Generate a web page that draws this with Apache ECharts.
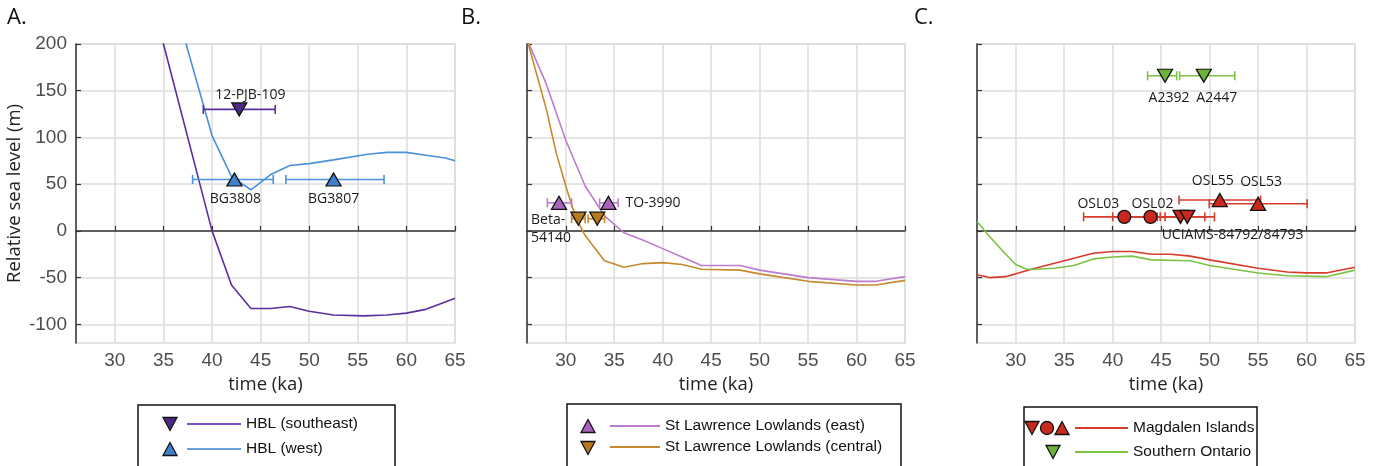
<!DOCTYPE html>
<html>
<head>
<meta charset="utf-8">
<script src="https://cdn.jsdelivr.net/npm/echarts@6/dist/echarts.min.js"></script>
<style>
  html, body { margin: 0; background: #fff; }
  #chart { width: 1382px; height: 466px; }
</style>
</head>
<body>
<div id="chart"></div>
<script>
// --- axes ---
const xTicks = [30, 35, 40, 45, 50, 55, 60, 65]
const yTicks = [-100, -50, 0, 50, 100, 150, 200]

// --- modelled relative sea level curves, [time ka, RSL m] ---
const hblSoutheast = [[34, 240], [35, 200], [40, 0], [42, -58], [44, -83], [46, -83], [48, -81], [50, -86], [52.5, -90], [55.6, -91], [58, -90], [60, -88], [62, -84], [64, -76], [65, -72]]
const hblWest = [[37, 212], [40, 102], [42, 58], [44, 44], [46, 60], [48, 70], [50, 72], [52.5, 76], [56, 82], [58, 84], [60, 84], [62, 81], [64, 78], [65, 75]]
const sllEast = [[26, 205], [28, 157], [30, 97], [32, 48], [34, 16], [36, -2], [38, -10], [40, -19], [42, -28], [44, -37], [48, -37], [50, -42], [55, -50], [60, -54], [62, -54], [65, -49]]
const sllCentral = [[26, 205], [28, 130], [29, 84], [30, 48], [31, 15], [32, -5], [34, -32], [36, -39], [38, -35], [40, -34], [42, -36], [44, -41], [48, -42], [50, -46], [55, -54], [60, -58], [62, -58], [65, -53]]
const magdalen = [[26, -47], [27.3, -50], [28.9, -49], [30, -46], [32, -40], [35, -32], [38, -24], [40, -22], [42, -22], [44, -25], [46, -25], [48, -27], [50, -31], [55, -40], [58, -44], [60, -45], [62, -45], [65, -39]]
const southOntario = [[26, 10], [27.3, -6], [28.7, -22], [30, -36], [31.1, -41], [32, -41], [34, -40], [36, -37], [38, -30], [40, -28], [42, -27], [44, -31], [48, -32], [50, -37], [55, -45], [58, -48], [62, -49], [65, -42]]

// --- dated samples: [label, age ka, elevation m, age low, age high] ---
const hblSeSamples = [['12-PJB-109', 42.8, 130, 39.1, 46.5]]
const hblWestSamples = [['BG3808', 42.3, 55, 38.0, 46.3], ['BG3807', 52.5, 55, 47.6, 57.7]]
const sllEastSamples = [['Beta-54140', 29.3, 30, 28.1, 30.6], ['TO-3990', 34.4, 30, 33.5, 35.4]]
const sllCentralSamples = [['', 31.3, 13, 30.6, 32.0], ['', 33.25, 13, 32.3, 34.0]]
const ontarioSamples = [['A2392', 45.4, 166, 43.6, 46.6], ['A2447', 49.4, 166, 46.9, 52.6]]
const magdalenCircles = [['OSL03', 41.2, 15, 37.0, 45.4], ['OSL02', 43.9, 15, 40.0, 47.8]]
const magdalenDown = [['UCIAMS-84792/84793', 47.0, 15, 44.6, 49.5], ['', 47.7, 15, 44.9, 50.5]]
const magdalenUp = [['OSL55', 51.05, 33, 46.85, 55.25], ['OSL53', 55.0, 29, 49.96, 60.06]]

// label placement relative to the marker centre (px)
const labelPos = {
  '12-PJB-109': { offset: [11, -14] },
  'BG3808': { offset: [1, 20] },
  'BG3807': { offset: [0, 20] },
  'Beta-54140': { offset: [-28, 26], align: 'left', text: 'Beta-\n54140' },
  'TO-3990': { offset: [17, 0], align: 'left' },
  'A2392': { offset: [4, 22] },
  'A2447': { offset: [13, 22] },
  'OSL03': { offset: [-26, -13] },
  'OSL02': { offset: [2, -13] },
  'UCIAMS-84792/84793': { offset: [52, 18] },
  'OSL55': { offset: [-7, -19] },
  'OSL53': { offset: [3, -22] },
}

const C = {
  hblSe: '#5b2f9e', hblSeFill: '#4b2a85',
  hblW: '#4a90db', hblWFill: '#3f7fcc',
  sllE: '#bb7dcc', sllEFill: '#a862b8',
  sllC: '#c58a2d', sllCFill: '#b8791f',
  mag: '#d73b2c', magFill: '#c8281e',
  ont: '#7dc243', ontFill: '#6cb33a',
}
const AXIS = '#333'
const GRIDLINE = '#dcdcdc'
const TICKTEXT = '#4d4d4d'
const SANS = '"Open Sans", "Noto Sans", sans-serif'
const HELV = '"Liberation Sans", Arial, sans-serif'

const grids = [
  { left: 76, top: 44, width: 379, height: 299 },
  { left: 527, top: 44, width: 378, height: 299 },
  { left: 977, top: 44, width: 378, height: 299 },
].map((g) => ({ ...g, show: true, borderColor: GRIDLINE, borderWidth: 1.5, containLabel: false }))

function xAxis(i) {
  return {
    type: 'value', gridIndex: i, min: 26, max: 65,
    name: 'time (ka)', nameLocation: 'middle', nameGap: 31,
    nameTextStyle: { color: '#222', fontSize: 18.5, fontFamily: SANS },
    axisLine: { lineStyle: { color: AXIS, width: 1.5 } },
    axisTick: { inside: true, length: 5, customValues: xTicks, lineStyle: { color: AXIS, width: 1.2 } },
    axisLabel: { customValues: xTicks, color: TICKTEXT, fontSize: 19, fontFamily: HELV, margin: 8 },
    splitLine: { show: true, lineStyle: { color: GRIDLINE, width: 1.5 } },
  }
}

function yAxis(i) {
  return {
    type: 'value', gridIndex: i, min: -120, max: 200,
    name: i === 0 ? 'Relative sea level (m)' : '', nameLocation: 'middle', nameGap: 52,
    nameTextStyle: { color: '#222', fontSize: 18.5, fontFamily: SANS },
    axisLine: { show: true, lineStyle: { color: AXIS, width: 1.5 } },
    axisTick: { show: true, inside: true, length: 5, customValues: yTicks, lineStyle: { color: AXIS, width: 1.2 } },
    axisLabel: { show: i === 0, customValues: yTicks, color: TICKTEXT, fontSize: 19, fontFamily: HELV, margin: 9 },
    splitLine: { show: true, lineStyle: { color: GRIDLINE, width: 1.5 } },
  }
}

function curve(i, data, color) {
  return {
    type: 'line', xAxisIndex: i, yAxisIndex: i, data, symbol: 'none', silent: true, z: 2,
    clip: true, lineStyle: { color, width: 1.6 },
  }
}

// horizontal age error bars with end caps
function errorBars(i, rows, color) {
  return {
    type: 'custom', xAxisIndex: i, yAxisIndex: i, silent: true, z: 3,
    itemStyle: { color },
    data: rows.map((r) => [r[3], r[4], r[2]]),
    renderItem(params, api) {
      const a = api.coord([api.value(0), api.value(2)])
      const b = api.coord([api.value(1), api.value(2)])
      const style = { stroke: color, lineWidth: 1.6 }
      const cap = 4.5
      return {
        type: 'group',
        children: [
          { type: 'line', shape: { x1: a[0], y1: a[1], x2: b[0], y2: b[1] }, style },
          { type: 'line', shape: { x1: a[0], y1: a[1] - cap, x2: a[0], y2: a[1] + cap }, style },
          { type: 'line', shape: { x1: b[0], y1: b[1] - cap, x2: b[0], y2: b[1] + cap }, style },
        ],
      }
    },
  }
}

function markers(i, rows, fill, shape) {
  const down = shape === 'down'
  return {
    type: 'scatter', xAxisIndex: i, yAxisIndex: i, silent: true, z: 4,
    symbol: shape === 'circle' ? 'circle' : 'triangle',
    symbolSize: shape === 'circle' ? 13 : [15, 13],
    symbolRotate: down ? 180 : 0,
    itemStyle: { color: fill, borderColor: '#111', borderWidth: 1.3, opacity: 1 },
    data: rows.map((r) => {
      const lp = labelPos[r[0]]
      const item = { value: [r[1], r[2]] }
      if (lp) {
        item.label = {
          show: true, position: 'inside', offset: lp.offset, align: lp.align || 'center',
          formatter: lp.text || r[0], color: '#1a1a1a', fontSize: 14, lineHeight: 18,
          fontFamily: SANS,
        }
      }
      return item
    }),
    label: { show: false },
  }
}

// --- legend boxes (drawn as graphics to match the MATLAB layout) ---
function tri(cx, cy, up, fill) {
  const w = 7, h = 6.5
  const pts = up
    ? [[cx - w, cy + h], [cx + w, cy + h], [cx, cy - h]]
    : [[cx - w, cy - h], [cx + w, cy - h], [cx, cy + h]]
  return { type: 'polygon', shape: { points: pts }, style: { fill, stroke: '#111', lineWidth: 1.3 } }
}
function legendRow(sym, x1, x2, y, color, text) {
  return [
    ...sym,
    { type: 'line', shape: { x1, y1: y, x2, y2: y }, style: { stroke: color, lineWidth: 2 } },
    { type: 'text', x: x2 + 5, y, style: { text, fill: '#111', font: `15.5px ${HELV}`, verticalAlign: 'middle' } },
  ]
}
function box(x, y, w, h) {
  return { type: 'rect', shape: { x, y, width: w, height: h }, style: { fill: '#fff', stroke: '#111', lineWidth: 1.5 } }
}
function title(x, text) {
  return { type: 'text', x, y: 18, style: { text, fill: '#111', font: `22px ${SANS}`, verticalAlign: 'middle' } }
}

const graphic = [
  title(7, 'A.'), title(461, 'B.'), title(914, 'C.'),
  box(138, 405, 257, 62),
  ...legendRow([tri(170, 424, false, C.hblSeFill)], 187, 241, 424, '#7a55bb', 'HBL (southeast)'),
  ...legendRow([tri(170, 449, true, C.hblWFill)], 187, 241, 449, '#6a9edf', 'HBL (west)'),
  box(567, 404, 334, 63),
  ...legendRow([tri(588, 426, true, C.sllEFill)], 610, 660, 426, C.sllE, 'St Lawrence Lowlands (east)'),
  ...legendRow([tri(588, 448, false, C.sllCFill)], 610, 660, 447, C.sllC, 'St Lawrence Lowlands (central)'),
  box(1024, 407, 233, 60),
  ...legendRow([
    tri(1032, 428, false, C.magFill),
    { type: 'circle', shape: { cx: 1047, cy: 428, r: 6.5 }, style: { fill: C.magFill, stroke: '#111', lineWidth: 1.3 } },
    tri(1062, 428, true, C.magFill),
  ], 1075, 1128, 428, C.mag, 'Magdalen Islands'),
  ...legendRow([tri(1053, 452, false, C.ontFill)], 1075, 1128, 452, C.ont, 'Southern Ontario'),
]

const option = {
  animation: false,
  backgroundColor: '#fff',
  grid: grids,
  xAxis: [0, 1, 2].map(xAxis),
  yAxis: [0, 1, 2].map(yAxis),
  graphic,
  series: [
    // A. Hudson Bay Lowlands
    curve(0, hblSoutheast, C.hblSe),
    curve(0, hblWest, C.hblW),
    errorBars(0, hblSeSamples, C.hblSe),
    errorBars(0, hblWestSamples, C.hblW),
    markers(0, hblSeSamples, C.hblSeFill, 'down'),
    markers(0, hblWestSamples, C.hblWFill, 'up'),
    // B. St Lawrence Lowlands
    curve(1, sllEast, C.sllE),
    curve(1, sllCentral, C.sllC),
    errorBars(1, sllEastSamples, C.sllE),
    errorBars(1, sllCentralSamples, C.sllC),
    markers(1, sllEastSamples, C.sllEFill, 'up'),
    markers(1, sllCentralSamples, C.sllCFill, 'down'),
    // C. Magdalen Islands / Southern Ontario
    curve(2, magdalen, C.mag),
    curve(2, southOntario, C.ont),
    errorBars(2, ontarioSamples, C.ont),
    errorBars(2, magdalenCircles, C.mag),
    errorBars(2, magdalenDown, C.mag),
    errorBars(2, magdalenUp, C.mag),
    markers(2, ontarioSamples, C.ontFill, 'down'),
    markers(2, magdalenCircles, C.magFill, 'circle'),
    markers(2, magdalenDown, C.magFill, 'down'),
    markers(2, magdalenUp, C.magFill, 'up'),
  ],
}

const chart = echarts.init(document.getElementById('chart'), null, { renderer: 'canvas' })
chart.setOption(option)
</script>
</body>
</html>
